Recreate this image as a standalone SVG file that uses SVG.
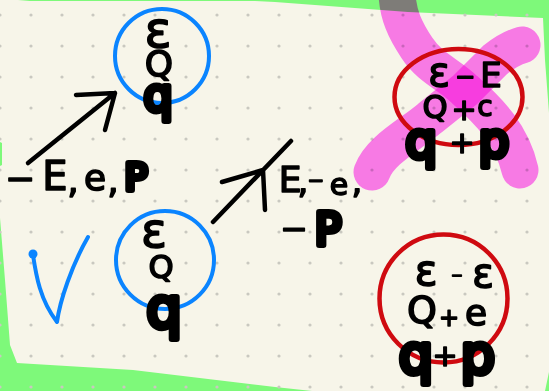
<svg xmlns="http://www.w3.org/2000/svg" width="549" height="391" viewBox="0 0 549 391">
<style>
text{font-family:"DejaVu Sans","Liberation Sans",sans-serif;fill:#000;stroke:#000;stroke-linejoin:round;text-anchor:middle}
.t{stroke-width:1.6}
.h{stroke-width:6}
.line{fill:none;stroke:#000;stroke-width:4.5;stroke-linecap:round;stroke-linejoin:round}
.blue{fill:none;stroke:#0a84ff;stroke-width:4}
.red{fill:none;stroke:#cf0a10;stroke-width:4.500}
.pink{fill:none;stroke:#ff7ffa;stroke-width:37;stroke-linecap:round;stroke-linejoin:round;mix-blend-mode:multiply}
</style>
<defs>
<pattern id="dots" x="0" y="15" width="31" height="31" patternUnits="userSpaceOnUse">
<circle cx="0" cy="0" r="1.6" fill="#c9c8c0"/><circle cx="31" cy="0" r="1.6" fill="#c9c8c0"/><circle cx="0" cy="31" r="1.6" fill="#c9c8c0"/><circle cx="31" cy="31" r="1.6" fill="#c9c8c0"/>
</pattern>
</defs>
<rect width="549" height="391" fill="#7ef97a"/>
<path d="M0 0H18L30 1H255L275 2L408 12L543 18L545 60L549 113V372L545 391H312L275 387L133 370L17 363L10 345L5 280L0 218Z" fill="#f7f5e9"/>
<path d="M0 142L2 143V165L0 166Z" fill="#7ef97a"/>
<rect width="549" height="391" fill="url(#dots)"/>
<path class="pink" d="M397 -6C398 15 405 30 417 48C430 68 450 75 465 90C490 112 512 135 520 170"/>
<path class="pink" d="M372 172C380 150 410 135 430 118L465 90L495 60C505 52 515 47 522 45"/>
<g id="check"><path d="M33 255C36 275 40 300 57 322C60 300 72 265 88 237" fill="none" stroke="#0a84ff" stroke-width="4" stroke-linecap="round" stroke-linejoin="round"/><circle cx="33" cy="254" r="4.500" fill="#0a84ff"/></g>
<g id="connectors">
<path class="line" d="M28 163L115 93M76 95L115 93L105 130"/>
<path class="line" d="M213 222L291 141M222 182L263 170L265 210"/>
</g>
<g id="node-top">
<circle class="blue" cx="162" cy="56" r="47"/>
<text class="t" x="158" y="47" font-size="50">ε</text>
<text class="t" x="159" y="76" font-size="36">Q</text>
<text class="h" x="158" y="111" font-size="46">q</text>
</g>
<g id="node-bottom">
<circle class="blue" cx="165" cy="260" r="49"/>
<text class="t" x="154" y="247" font-size="48">ε</text>
<text class="t" x="161" y="278" font-size="32">Q</text>
<text class="h" x="164" y="327" font-size="56">q</text>
</g>
<g id="node-crossed">
<ellipse class="red" cx="458.500" cy="97" rx="64" ry="48"/>
<text class="t" x="439" y="86" font-size="40">ε</text>
<text class="t" x="465" y="85" font-size="24">−</text>
<text class="t" x="491" y="87" font-size="34">E</text>
<text class="t" x="435" y="118" font-size="32">Q</text>
<text class="t" x="464" y="120" font-size="30">+</text>
<text class="t" x="485" y="116" font-size="28">c</text>
<text class="h" x="421" y="158" font-size="50">q</text>
<text class="t" x="462" y="153" font-size="30">+</text>
<text class="h" x="494" y="157" font-size="48">p</text>
</g>
<g id="node-result">
<circle class="red" cx="443.500" cy="298.500" r="64"/>
<text class="t" x="426" y="285" font-size="42">ε</text>
<text class="t" x="457" y="280" font-size="14">−</text>
<text class="t" x="483" y="287" font-size="40">ε</text>
<text class="t" x="422" y="323" font-size="38">Q</text>
<text class="t" x="449" y="326" font-size="24">+</text>
<text class="t" x="476" y="325" font-size="36">e</text>
<text class="h" x="416" y="373" font-size="54">q</text>
<text class="t" x="445" y="366" font-size="30">+</text>
<text class="h" x="478" y="373" font-size="54">p</text>
</g>
<g id="label-left">
<text class="t" x="20" y="191" font-size="36">−</text>
<text class="t" x="55" y="190" font-size="40">E</text>
<text class="t" x="73" y="193" font-size="36">,</text>
<text class="t" x="95" y="190" font-size="36">e</text>
<text class="t" x="113" y="193" font-size="36">,</text>
<text class="h" x="136" y="190" font-size="38">P</text>
</g>
<g id="label-right">
<text class="t" x="290" y="192" font-size="36">E</text>
<text class="t" x="303" y="193" font-size="34">,</text>
<text class="t" x="316" y="187" font-size="20">−</text>
<text class="t" x="339" y="195" font-size="30">e</text>
<text class="t" x="357" y="193" font-size="34">,</text>
<text class="t" x="294" y="240" font-size="33">−</text>
<text class="h" x="328" y="245" font-size="44">P</text>
</g>
</svg>
